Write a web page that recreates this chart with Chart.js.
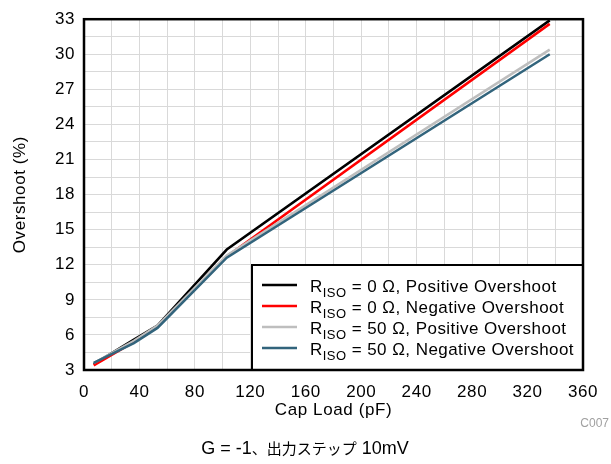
<!DOCTYPE html>
<html>
<head>
<meta charset="utf-8">
<script src="https://cdn.jsdelivr.net/npm/chart.js@4"></script>
<style>
  html, body { margin: 0; padding: 0; background: #fff; }
</style>
</head>
<body>
<canvas id="overshoot-chart" width="611" height="464"></canvas>
<script>
// values
const capLoad = [7, 36, 53, 103, 336];
const posOvershootR0 = [3.5, 5.6, 6.8, 13.3, 32.9];
const negOvershootR0 = [3.4, 5.4, 6.7, 12.7, 32.6];
const posOvershootR50 = [3.6, 5.5, 6.8, 12.8, 30.4];
const negOvershootR50 = [3.6, 5.3, 6.6, 12.6, 30.0];

const seriesRiso = ['0', '0', '50', '50'];
const seriesKind = ['Positive Overshoot', 'Negative Overshoot', 'Positive Overshoot', 'Negative Overshoot'];
const seriesColors = ['#000000', '#ff0000', '#bebebe', '#32647c'];

// caption is split so the latin and japanese parts can get their own sizes
const captionParts = ['G = -1', '、出力ステップ', ' 10mV'];
const figureId = 'C007';

const FONT = '"Liberation Sans", Arial, "Noto Sans CJK JP", sans-serif';
const CJK_FONT = '"Noto Sans CJK JP", sans-serif';
const SPACING = '0.6px';

function toPoints(ys) {
    return capLoad.map((x, i) => ({ x: x, y: ys[i] }));
}

const allSeries = [posOvershootR0, negOvershootR0, posOvershootR50, negOvershootR50];

const datasets = allSeries.map((ys, i) => ({
    label: 'RISO = ' + seriesRiso[i] + ' Ω, ' + seriesKind[i],
    data: toPoints(ys),
    borderColor: seriesColors[i],
    borderWidth: 2.5,
    pointRadius: 0,
    fill: false,
    tension: 0,
    order: 4 - i
}));

// the reference text is set a little wider than Liberation Sans
const textSpacing = {
    id: 'textSpacing',
    beforeUpdate(chart) { chart.ctx.letterSpacing = SPACING; },
    beforeDraw(chart) { chart.ctx.letterSpacing = SPACING; }
};

// frame around the plot, the boxed legend, caption and figure id
const decorations = {
    id: 'decorations',
    afterDraw(chart) {
        const ctx = chart.ctx;
        const a = chart.chartArea;
        ctx.save();

        // legend box
        const boxL = 252, boxT = 265;
        ctx.fillStyle = '#fff';
        ctx.fillRect(boxL, boxT, a.right - boxL, a.bottom - boxT);
        ctx.strokeStyle = '#000';
        ctx.lineWidth = 2;
        ctx.strokeRect(boxL, boxT, a.right - boxL, a.bottom - boxT);

        ctx.textBaseline = 'alphabetic';
        ctx.textAlign = 'left';
        ctx.letterSpacing = '0.45px';
        for (let i = 0; i < datasets.length; i++) {
            const y = 285 + i * 21;
            ctx.strokeStyle = seriesColors[i];
            ctx.lineWidth = 2.5;
            ctx.beginPath();
            ctx.moveTo(262, y);
            ctx.lineTo(297, y);
            ctx.stroke();

            ctx.fillStyle = '#000';
            let x = 310;
            ctx.font = '17px ' + FONT;
            ctx.fillText('R', x, y + 7);
            x += ctx.measureText('R').width;
            ctx.font = '13px ' + FONT;
            ctx.fillText('ISO', x, y + 12);
            x += ctx.measureText('ISO').width;
            ctx.font = '17px ' + FONT;
            ctx.fillText(' = ' + seriesRiso[i] + ' Ω, ' + seriesKind[i], x, y + 7);
        }

        // plot frame
        ctx.strokeStyle = '#000';
        ctx.lineWidth = 2.5;
        ctx.strokeRect(a.left, a.top, a.right - a.left, a.bottom - a.top);

        // figure id
        ctx.letterSpacing = '0px';
        ctx.fillStyle = '#a0a0a0';
        ctx.font = '12px ' + FONT;
        ctx.textAlign = 'right';
        ctx.fillText(figureId, 609, 427);

        // caption, centred as a whole
        ctx.fillStyle = '#000';
        ctx.textAlign = 'left';
        const fonts = ['18px ' + FONT, '15px ' + CJK_FONT, '18px ' + FONT];
        const widths = captionParts.map((t, i) => {
            ctx.font = fonts[i];
            return ctx.measureText(t).width;
        });
        let cx = 305 - widths.reduce((s, w) => s + w, 0) / 2;
        captionParts.forEach((t, i) => {
            ctx.font = fonts[i];
            ctx.fillText(t, cx, 454);
            cx += widths[i];
        });
        ctx.restore();
    }
};

const ctx = document.getElementById('overshoot-chart').getContext('2d');
const overshootChart = new Chart(ctx, {
    type: 'line',
    data: { datasets: datasets },
    options: {
        responsive: false,
        animation: false,
        layout: { padding: { left: 0, top: 17, right: 28, bottom: 43 } },
        plugins: {
            legend: { display: false },
            tooltip: { enabled: false }
        },
        scales: {
            x: {
                type: 'linear',
                min: 0,
                max: 360,
                afterFit(scale) { scale.height = 51; },
                grid: { color: '#d9d9d9', lineWidth: 1, drawTicks: false },
                border: { display: false },
                ticks: {
                    stepSize: 20,
                    autoSkip: false,
                    maxRotation: 0,
                    padding: 12,
                    color: '#000',
                    font: { family: FONT, size: 17 },
                    callback: v => (v % 40 === 0 ? v : '')
                },
                title: {
                    display: true,
                    text: 'Cap Load (pF)',
                    color: '#000',
                    font: { family: FONT, size: 17 },
                    padding: { top: 0, bottom: 0 }
                }
            },
            y: {
                min: 3,
                max: 33,
                afterFit(scale) { scale.width = 84; },
                grid: { color: '#d9d9d9', lineWidth: 1, drawTicks: false },
                border: { display: false },
                ticks: {
                    stepSize: 1.5,
                    autoSkip: false,
                    padding: 9,
                    color: '#000',
                    font: { family: FONT, size: 17 },
                    callback: v => (v % 3 === 0 ? v : '')
                },
                title: {
                    display: true,
                    text: 'Overshoot (%)',
                    color: '#000',
                    font: { family: FONT, size: 17 },
                    padding: { top: 10, bottom: 0 }
                }
            }
        }
    },
    plugins: [textSpacing, decorations]
});
</script>
</body>
</html>
